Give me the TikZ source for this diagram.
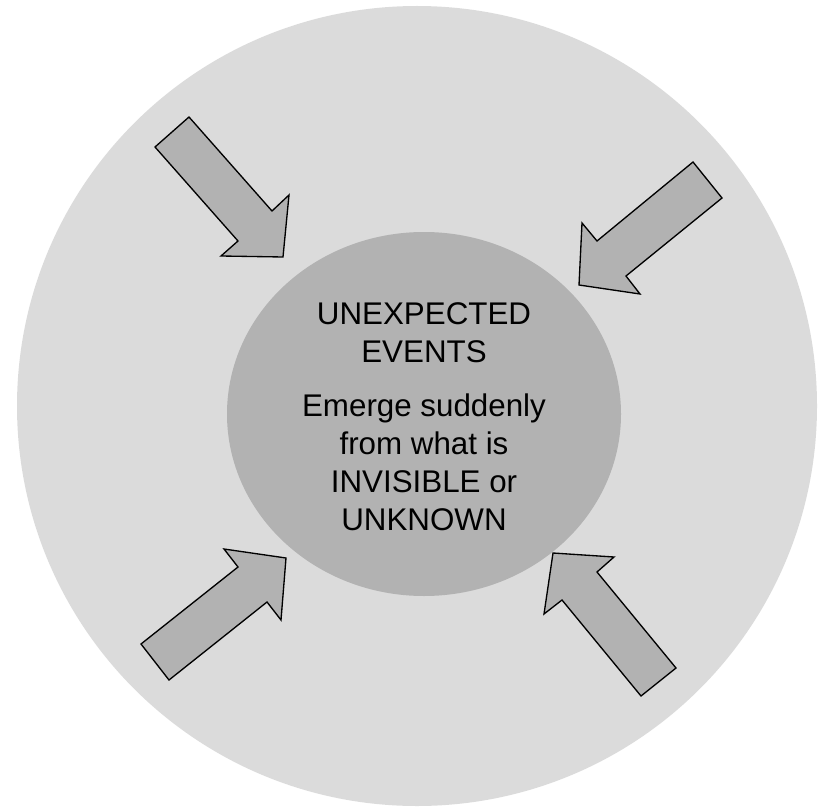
\documentclass[tikz,border=0pt]{standalone}
\usepackage{fontspec}
\setmainfont{Liberation Sans}
\usepackage{tikz}

\definecolor{outergray}{gray}{0.86}
\definecolor{innergray}{gray}{0.70}

\tikzset{
    blockarrow/.style={draw=black, fill=innergray, line width=1pt, line join=miter},
    eventtext/.style={align=center, inner sep=0pt, font=\fontsize{23.5}{28.5}\selectfont},
}

\begin{document}
\begin{tikzpicture}[x=0.75pt, y=-0.75pt]
    \useasboundingbox (0,0) rectangle (823,809);
    \fill[outergray] (417,406) circle (400);
    \fill[innergray] (424,414) ellipse (197 and 182);
    \draw[blockarrow] (155,147) -- (189,117) -- (272,211) -- (289,195)
        -- (283,257) -- (221,256) -- (238,241) -- cycle;
    \draw[blockarrow] (693,162) -- (722,198) -- (626,276) -- (640,294)
        -- (579,285) -- (582,223) -- (597,241) -- cycle;
    \draw[blockarrow] (141,644) -- (169,680) -- (267,602) -- (281,620)
        -- (286,558) -- (224,549) -- (238,567) -- cycle;
    \draw[blockarrow] (676,668) -- (641,696) -- (562,600) -- (544,614)
        -- (553,553) -- (614,557) -- (597,572) -- cycle;
    \node[eventtext, anchor=north] (events) at (424,302)
        {UNEXPECTED\\EVENTS\\[12pt]Emerge suddenly\\from what is\\INVISIBLE or\\UNKNOWN};
\end{tikzpicture}
\end{document}
